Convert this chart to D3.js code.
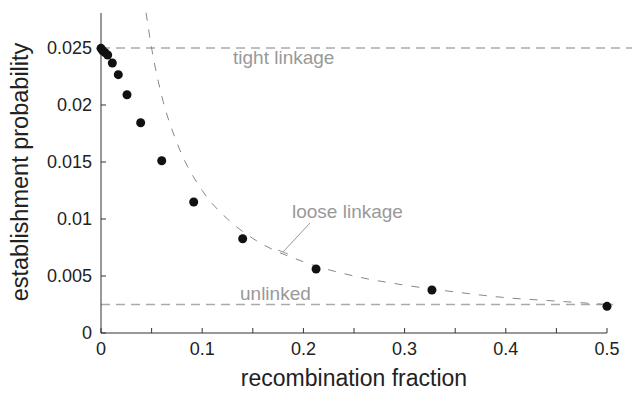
<!DOCTYPE html>
<html>
<head>
<meta charset="utf-8">
<script src="https://cdn.jsdelivr.net/npm/d3@7"></script>
<style>
  body { margin: 0; background: #fff; }
  svg { display: block; font-family: "Liberation Sans", Arial, sans-serif; }
</style>
</head>
<body>
<svg id="chart" width="632" height="393"></svg>
<script>
// simulated establishment probability vs recombination fraction
const recombination = [0, 0.0017, 0.004, 0.0066, 0.0112, 0.0171, 0.0257, 0.0392, 0.060, 0.0916, 0.140, 0.2125, 0.327, 0.5];
const establishment = [0.02497, 0.02476, 0.02459, 0.02439, 0.02368, 0.02266, 0.0209, 0.01844, 0.01511, 0.01149, 0.00827, 0.00561, 0.00377, 0.00234];

// loose linkage approximation
const looseR = [0.0445, 0.05, 0.06, 0.075, 0.1, 0.125, 0.15, 0.2, 0.25, 0.3, 0.35, 0.4, 0.45, 0.5];
const looseP = [0.0281, 0.025, 0.0208, 0.0167, 0.0125, 0.01, 0.0083, 0.00625, 0.005, 0.0042, 0.0036, 0.0031, 0.0028, 0.0025];

const tightValue = 0.025;
const unlinkedValue = 0.0025;

const xTicks = [0, 0.1, 0.2, 0.3, 0.4, 0.5];
const xMinorTicks = [0, 0.05, 0.1, 0.15, 0.2, 0.25, 0.3, 0.35, 0.4, 0.45, 0.5];
const yTicks = [0, 0.005, 0.01, 0.015, 0.02, 0.025];

const svg = d3.select('#chart');

const x = d3.scaleLinear().domain([0, 0.5]).range([101, 607]);
const y = d3.scaleLinear().domain([0, 0.02807]).range([333, 13]);

const axisColor = '#333';
const refColor = '#aaa';
const labelColor = '#999';

// reference lines
svg.append('line')
  .attr('x1', x(0)).attr('x2', x(0.525))
  .attr('y1', y(tightValue)).attr('y2', y(tightValue))
  .attr('stroke', refColor).attr('stroke-width', 1.5)
  .attr('stroke-dasharray', '9,6');

svg.append('line')
  .attr('x1', x(0)).attr('x2', x(0.506))
  .attr('y1', y(unlinkedValue)).attr('y2', y(unlinkedValue))
  .attr('stroke', refColor).attr('stroke-width', 1.5)
  .attr('stroke-dasharray', '9,6');

const looseLine = d3.line()
  .x((d) => x(d[0]))
  .y((d) => y(d[1]))
  .curve(d3.curveMonotoneX);

svg.append('path')
  .datum(d3.zip(looseR, looseP))
  .attr('d', looseLine)
  .attr('fill', 'none')
  .attr('stroke', '#888')
  .attr('stroke-width', 1)
  .attr('stroke-dasharray', '8,9');

// axes
const xAxis = svg.append('g');
xAxis.append('line')
  .attr('x1', x(0)).attr('x2', x(0.5))
  .attr('y1', y(0)).attr('y2', y(0))
  .attr('stroke', axisColor);
xAxis.selectAll('line.tick')
  .data(xMinorTicks)
  .join('line')
  .attr('class', 'tick')
  .attr('x1', (d) => x(d)).attr('x2', (d) => x(d))
  .attr('y1', y(0)).attr('y2', y(0) - 5)
  .attr('stroke', axisColor);
xAxis.selectAll('text')
  .data(xTicks)
  .join('text')
  .attr('x', (d) => x(d))
  .attr('y', 355)
  .attr('text-anchor', 'middle')
  .attr('font-size', 18)
  .attr('fill', '#222')
  .text((d) => d3.format('~g')(d));

const yAxis = svg.append('g');
yAxis.append('line')
  .attr('x1', x(0)).attr('x2', x(0))
  .attr('y1', y(0)).attr('y2', 13)
  .attr('stroke', axisColor);
yAxis.selectAll('line.tick')
  .data(yTicks)
  .join('line')
  .attr('class', 'tick')
  .attr('x1', x(0)).attr('x2', x(0) + 5)
  .attr('y1', (d) => y(d)).attr('y2', (d) => y(d))
  .attr('stroke', axisColor);
yAxis.selectAll('text')
  .data(yTicks)
  .join('text')
  .attr('x', 92)
  .attr('y', (d) => y(d))
  .attr('dy', '0.35em')
  .attr('text-anchor', 'end')
  .attr('font-size', 18)
  .attr('fill', '#222')
  .text((d) => d3.format('~g')(d));

// points
svg.append('g')
  .selectAll('circle')
  .data(d3.zip(recombination, establishment))
  .join('circle')
  .attr('cx', (d) => x(d[0]))
  .attr('cy', (d) => y(d[1]))
  .attr('r', 4.5)
  .attr('fill', '#111');

// annotations
svg.append('text')
  .attr('x', 233).attr('y', 64)
  .attr('font-size', 19)
  .attr('fill', labelColor)
  .text('tight linkage');

svg.append('text')
  .attr('x', 292).attr('y', 218)
  .attr('font-size', 19)
  .attr('fill', labelColor)
  .text('loose linkage');

svg.append('text')
  .attr('x', 240).attr('y', 300)
  .attr('font-size', 19)
  .attr('fill', labelColor)
  .text('unlinked');

// leader from label to curve
svg.append('line')
  .attr('x1', 310).attr('y1', 223)
  .attr('x2', 283).attr('y2', 252)
  .attr('stroke', labelColor).attr('stroke-width', 1);
svg.append('line')
  .attr('x1', 278).attr('y1', 250)
  .attr('x2', 288).attr('y2', 254)
  .attr('stroke', labelColor).attr('stroke-width', 1);

// axis titles
svg.append('text')
  .attr('x', 354).attr('y', 386)
  .attr('text-anchor', 'middle')
  .attr('font-size', 23)
  .attr('fill', '#222')
  .text('recombination fraction');

svg.append('text')
  .attr('transform', 'translate(28,172) rotate(-90)')
  .attr('text-anchor', 'middle')
  .attr('font-size', 23.5)
  .attr('fill', '#222')
  .text('establishment probability');
</script>
</body>
</html>
